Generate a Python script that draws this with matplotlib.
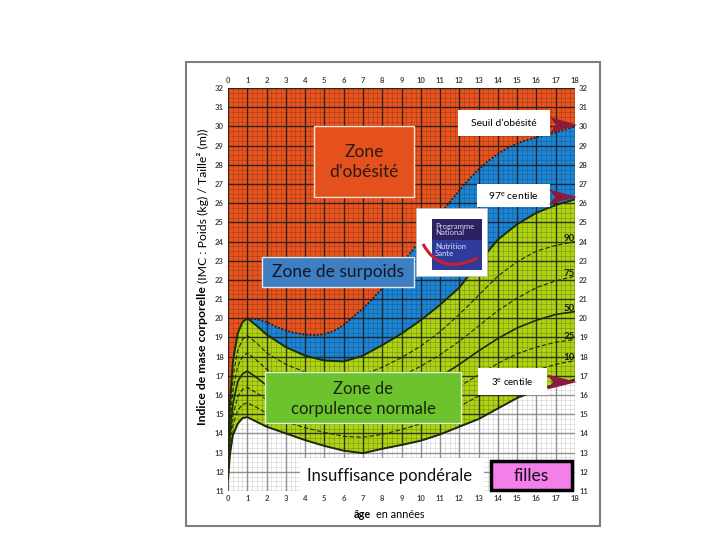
import matplotlib
matplotlib.use("Agg")
import matplotlib.pyplot as plt
from matplotlib.patches import Rectangle, Polygon, PathPatch
from matplotlib.path import Path

plt.rcParams['font.family'] = ['Lato', 'DejaVu Sans']
plt.rcParams['mathtext.fontset'] = 'custom'
plt.rcParams['mathtext.rm'] = 'Lato'
plt.rcParams['mathtext.it'] = 'Lato:italic'
plt.rcParams['mathtext.bf'] = 'Lato:bold'

# ---- données (IMC filles) ----
ages = [0, 0.1, 0.25, 0.5, 0.75, 1, 1.5, 2, 3, 4, 5, 6, 7, 8, 9, 10, 11, 12, 13, 14, 15, 16, 17, 18]
p97 = [13.3, 15.6, 17.7, 19.2, 19.8, 20.0, 19.6, 19.15, 18.5, 18.05, 17.8, 17.75, 18.05, 18.6, 19.2, 19.9, 20.7, 21.6, 22.9, 24.1, 24.9, 25.5, 25.9, 26.2]
p90 = [13.0, 15.0, 16.9, 18.3, 18.9, 19.1, 18.7, 18.2, 17.6, 17.2, 16.95, 16.85, 17.05, 17.45, 17.95, 18.55, 19.3, 20.2, 21.2, 22.2, 22.95, 23.5, 23.8, 24.0]
p75 = [12.7, 14.5, 16.2, 17.5, 18.0, 18.2, 17.8, 17.35, 16.8, 16.45, 16.2, 16.1, 16.25, 16.6, 17.0, 17.5, 18.1, 18.8, 19.6, 20.4, 21.05, 21.6, 21.95, 22.2]
p50 = [12.4, 14.0, 15.5, 16.7, 17.1, 17.25, 16.9, 16.5, 16.0, 15.7, 15.45, 15.3, 15.4, 15.65, 16.0, 16.45, 16.95, 17.6, 18.3, 18.95, 19.5, 19.9, 20.2, 20.35]
p25 = [12.1, 13.6, 14.9, 15.9, 16.3, 16.4, 16.1, 15.75, 15.3, 15.0, 14.75, 14.6, 14.6, 14.8, 15.1, 15.45, 15.9, 16.45, 17.05, 17.65, 18.15, 18.5, 18.75, 18.9]
p10 = [11.85, 13.2, 14.4, 15.2, 15.5, 15.6, 15.35, 15.05, 14.6, 14.3, 14.05, 13.85, 13.8, 13.95, 14.2, 14.5, 14.9, 15.4, 15.95, 16.5, 16.95, 17.3, 17.6, 17.8]
p3 = [11.6, 12.9, 13.9, 14.5, 14.8, 14.85, 14.6, 14.35, 14.0, 13.65, 13.35, 13.1, 12.97, 13.2, 13.4, 13.62, 13.95, 14.35, 14.75, 15.3, 15.85, 16.25, 16.55, 16.8]

# seuil d'obésité (IMC 30 à 18 ans)
seuil_ages = [1, 1.5, 2, 2.5, 3, 3.5, 4, 4.5, 5, 5.5, 6, 6.5, 7, 7.5, 8, 8.5, 9, 9.5, 10, 10.5,
              11, 11.5, 12, 12.5, 13, 13.5, 14, 14.5, 15, 15.5, 16, 16.5, 17, 17.5, 18]
seuil = [20.0, 19.95, 19.81, 19.55, 19.36, 19.23, 19.15, 19.12, 19.17, 19.34, 19.65, 20.08, 20.51, 21.01,
         21.57, 22.18, 22.81, 23.46, 24.11, 24.77, 25.42, 26.05, 26.67, 27.24, 27.76, 28.2, 28.57, 28.87,
         29.11, 29.29, 29.43, 29.56, 29.69, 29.84, 30.0]

cent_labels = ['90', '75', '50', '25', '10']
cent_curves = [p90, p75, p50, p25, p10]

ORANGE = '#E8531E'
BLUE = '#1B84D4'
GREEN = '#ADD312'
LINE = '#1d2a0c'

W, H = 720, 540
def fx(px):
    return px / W
def fy(py):
    return 1 - py / H
def box(x0, y0, x1, y1, fc, ec='#f0f0f0', lw=1.0, z=3):
    r = Rectangle((fx(x0), fy(y1)), (x1 - x0) / W, (y1 - y0) / H, transform=fig.transFigure,
                  fc=fc, ec=ec, lw=lw, zorder=z)
    fig.add_artist(r)

def fleche(x0, tip, yc, h):
    # flèche bordeaux pointant vers la droite
    pts = [(fx(x0), fy(yc - h)), (fx(tip), fy(yc)), (fx(x0), fy(yc + h)), (fx(x0 + 6), fy(yc))]
    fig.add_artist(Polygon(pts, closed=True, transform=fig.transFigure, fc='#8B1A3C', ec='none', zorder=3))

fig = plt.figure(figsize=(7.2, 5.4), dpi=100)
fig.patch.set_facecolor('white')

# cadre gris autour de l'image
fig.add_artist(Rectangle((fx(186), fy(526)), 414 / W, 464 / H, transform=fig.transFigure,
                         fill=False, ec='#7d7d7d', lw=1.5, zorder=0))

ax = fig.add_axes([fx(228), fy(491), 347 / W, 403 / H])
ax.set_xlim(0, 18)
ax.set_ylim(11, 32)
ax.set_facecolor(ORANGE)

# zones
blue_pts = list(zip(seuil_ages, seuil)) + [(a, v) for a, v in zip(ages, p97) if a >= 1][::-1]
ax.add_patch(Polygon(blue_pts, closed=True, fc=BLUE, ec='none', zorder=1))
green_pts = list(zip(ages, p97)) + list(zip(ages, p3))[::-1]
ax.add_patch(Polygon(green_pts, closed=True, fc=GREEN, ec='none', zorder=1))
ax.fill_between(ages, 11, p3, color='white', lw=0, zorder=1)
# voile blanc : quadrillage plus clair sous le 3e centile
ax.fill_between(ages, 11, p3, color='white', alpha=0.45, lw=0, zorder=2.6)

# quadrillage
ax.set_xticks(range(0, 19))
ax.set_yticks(range(11, 33))
ax.set_xticks([i / 4 for i in range(73)], minor=True)
ax.set_yticks([11 + i / 4 for i in range(85)], minor=True)
ax.set_axisbelow(False)
ax.grid(which='major', color='#1a1a1a', lw=1.0, alpha=0.85)
ax.grid(which='minor', color='#1a1a1a', lw=0.45, alpha=0.3)

# courbes
ax.plot(ages, p97, color=LINE, lw=1.4, zorder=3)
ax.plot(ages, p3, color=LINE, lw=1.4, zorder=3)
ax.plot(ages, p50, color=LINE, lw=1.2, zorder=3)
for c in [p90, p75, p25, p10]:
    ax.plot(ages, c, color=LINE, lw=0.8, ls=(0, (4, 2)), zorder=3)
ax.plot(seuil_ages, seuil, color='#2a1a10', lw=1.3, ls=(0, (1, 1)), zorder=3)

for lab, c in zip(cent_labels, cent_curves):
    ax.text(17.97, c[-1] + 0.15, lab, ha='right', va='center', fontsize=7, fontweight='bold',
            color='#1a1a1a', zorder=4)

ax.tick_params(which='both', length=0, labelsize=5.5, labelcolor='#444444',
               labeltop=True, labelright=True, pad=3)
for lab in ax.get_xticklabels() + ax.get_yticklabels():
    lab.set_fontweight('bold')
for s in ax.spines.values():
    s.set_visible(False)

# titres des axes
fig.text(fx(203), fy(356), 'Indice de mase corporelle', rotation=90, ha='center', va='center',
         fontsize=8.8, fontweight='bold')
fig.text(fx(203), fy(206), '(IMC : Poids (kg) / Taille² (m))', rotation=90, ha='center', va='center',
         fontsize=8.8)
fig.text(fx(371), fy(514), 'âge', ha='right', va='center', fontsize=7.8, fontweight='bold')
fig.text(fx(376), fy(514), 'en années', ha='left', va='center', fontsize=7.8)

# encadrés des zones
box(314, 126, 414, 197, '#E4511C', ec='#fbe3d8')
fig.text(fx(364), fy(162), 'Zone\nd\u2019obésité', ha='center', va='center', fontsize=12.5,
         color='#2a1a14', linespacing=1.3, zorder=4)
box(262, 257, 414, 287, '#3E7EC1', ec='#dfe8f2')
fig.text(fx(338), fy(272), 'Zone de surpoids', ha='center', va='center', fontsize=12.5,
         color='#101828', zorder=4)
box(265, 372, 461, 423, '#6DC32D', ec='#e2f2d6')
fig.text(fx(363), fy(399), 'Zone de\ncorpulence normale', ha='center', va='center', fontsize=12,
         color='#18240e', linespacing=1.25, zorder=4)
box(300, 458, 484, 491, 'white', ec='none')
fig.text(fx(390), fy(476), 'Insuffisance pondérale', ha='center', va='center', fontsize=12,
         color='#111111', zorder=4)
box(491, 461, 572, 490, '#F27FEA', ec='black', lw=2.5)
fig.text(fx(531), fy(476), 'filles', ha='center', va='center', fontsize=12.5, color='#111111', zorder=4)

# étiquettes des seuils
box(458, 110, 550, 136, 'white', ec='none')
fig.text(fx(504), fy(123), 'Seuil d\u2019obésité', ha='center', va='center', fontsize=7.5, zorder=4)
fleche(550, 577, 125, 8)
box(477, 184, 550, 207, 'white', ec='none')
fig.text(fx(513), fy(196), '97$^{\\mathrm{e}}$ centile', ha='center', va='center', fontsize=7.5, zorder=4)
fleche(549, 577, 197, 7.5)
box(478, 368, 547, 395, 'white', ec='none')
fig.text(fx(512), fy(382), '3$^{\\mathrm{e}}$ centile', ha='center', va='center', fontsize=7, zorder=4)
fleche(547, 577, 382, 7.5)

# logo PNNS
box(416, 208, 487, 276, 'white', ec='#bbbbbb', lw=0.6)
box(432, 219, 482, 240, '#2B2262', ec='none', z=4)
box(432, 240, 482, 270, '#2E3B98', ec='none', z=4)
fig.text(fx(435), fy(229.5), 'Programme\nNational', ha='left', va='center', fontsize=5.6,
         color='#d8d8f0', linespacing=0.95, zorder=5)
fig.text(fx(435), fy(250), 'Nutrition\nSante', ha='left', va='center', fontsize=5.6,
         color='#d8e4ff', linespacing=0.95, zorder=5)
arc = Path([(fx(423), fy(244)), (fx(440), fy(276)), (fx(478), fy(258))],
           [Path.MOVETO, Path.CURVE3, Path.CURVE3])
fig.add_artist(PathPatch(arc, transform=fig.transFigure, fc='none', ec='#C8202F', lw=2.2, zorder=6))

fig.savefig('out.png', dpi=100)
